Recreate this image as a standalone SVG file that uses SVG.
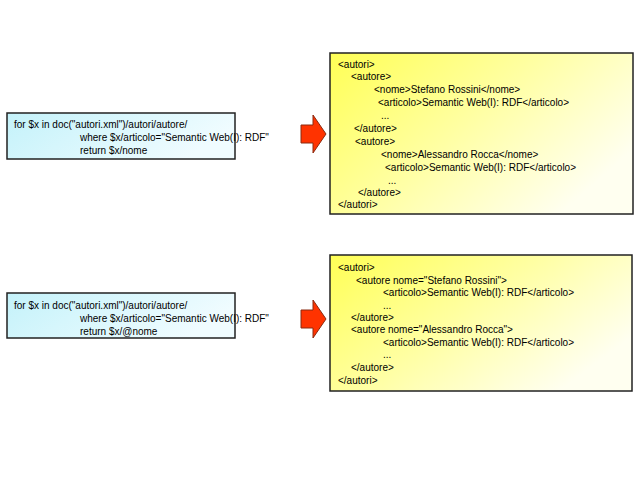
<svg xmlns="http://www.w3.org/2000/svg" width="640" height="480" viewBox="0 0 640 480">
<defs>
<linearGradient id="cy" x1="0" y1="0" x2="1" y2="0.3"><stop offset="0" stop-color="#c4f2fa"/><stop offset="1" stop-color="#f0fcff"/></linearGradient>
<linearGradient id="yl" x1="0" y1="0" x2="1" y2="0.6"><stop offset="0" stop-color="#ffff55"/><stop offset="0.5" stop-color="#ffffa0"/><stop offset="1" stop-color="#fffff0"/></linearGradient>
<style>
.q{fill:url(#cy);stroke:#222;stroke-width:1.5}
.r{fill:url(#yl);stroke:#222;stroke-width:1.5}
.a{fill:#ff3300;stroke:#8a2a10;stroke-width:1}
text{font-family:"Liberation Sans",Arial,sans-serif;font-size:10px;fill:#000}
</style>
</defs>
<rect width="640" height="480" fill="#fff"/>
<g id="query1"><rect class="q" x="7" y="113" width="228" height="46"/>
<text x="14" y="128">for $x in doc("autori.xml")/autori/autore/</text>
<text x="80" y="141">where $x/articolo="Semantic Web(I): RDF"</text>
<text x="80" y="154">return $x/nome</text></g>
<g id="result1"><rect class="r" x="330" y="53" width="303" height="161"/>
<text x="338" y="68">&lt;autori&gt;</text>
<text x="351" y="80">&lt;autore&gt;</text>
<text x="374" y="93">&lt;nome&gt;Stefano Rossini&lt;/nome&gt;</text>
<text x="378" y="106">&lt;articolo&gt;Semantic Web(I): RDF&lt;/articolo&gt;</text>
<text x="381" y="119">...</text>
<text x="354" y="132">&lt;/autore&gt;</text>
<text x="355" y="145">&lt;autore&gt;</text>
<text x="381" y="158">&lt;nome&gt;Alessandro Rocca&lt;/nome&gt;</text>
<text x="385" y="171">&lt;articolo&gt;Semantic Web(I): RDF&lt;/articolo&gt;</text>
<text x="388" y="184">...</text>
<text x="358" y="196">&lt;/autore&gt;</text>
<text x="338" y="208">&lt;/autori&gt;</text></g>
<g id="query2"><rect class="q" x="7" y="293" width="228" height="45"/>
<text x="14" y="309">for $x in doc("autori.xml")/autori/autore/</text>
<text x="80" y="322">where $x/articolo="Semantic Web(I): RDF"</text>
<text x="80" y="335">return $x/@nome</text></g>
<g id="result2"><rect class="r" x="330" y="255" width="302" height="136"/>
<text x="338" y="271">&lt;autori&gt;</text>
<text x="356" y="284">&lt;autore nome="Stefano Rossini"&gt;</text>
<text x="383" y="296">&lt;articolo&gt;Semantic Web(I): RDF&lt;/articolo&gt;</text>
<text x="383" y="309">...</text>
<text x="351" y="321">&lt;/autore&gt;</text>
<text x="351" y="333">&lt;autore nome="Alessandro Rocca"&gt;</text>
<text x="383" y="346">&lt;articolo&gt;Semantic Web(I): RDF&lt;/articolo&gt;</text>
<text x="383" y="358">...</text>
<text x="351" y="371">&lt;/autore&gt;</text>
<text x="338" y="384">&lt;/autori&gt;</text></g>
<g id="connectors">
<polygon class="a" points="301,125 313,125 313,115 326,134 313,153 313,143 301,143"/>
<polygon class="a" points="301,310 313,310 313,300 326,319 313,338 313,328 301,328"/>
</g>
</svg>
